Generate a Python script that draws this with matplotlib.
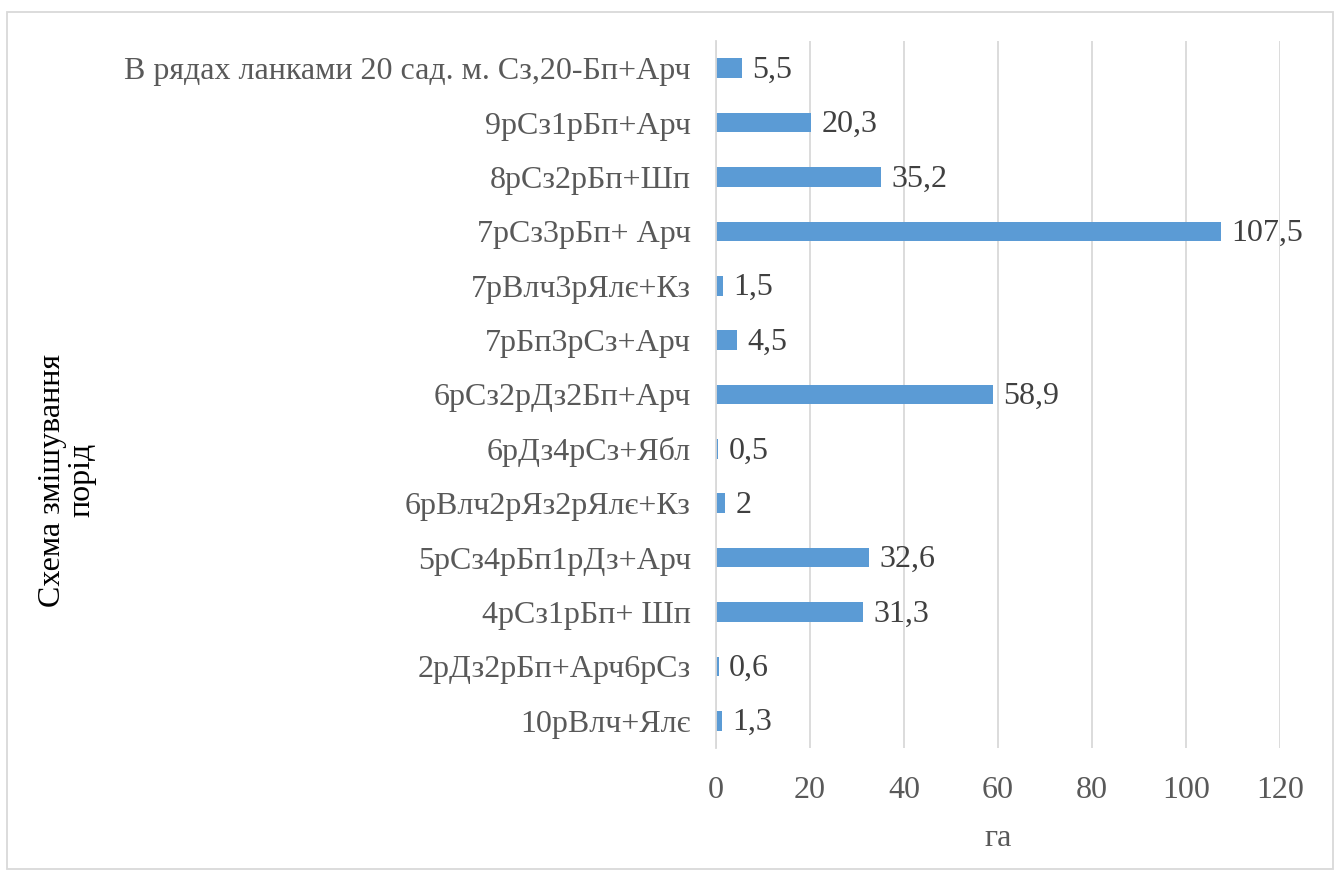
import matplotlib
matplotlib.use("Agg")
import matplotlib.pyplot as plt
from matplotlib.patches import Rectangle

categories = [
    "10рВлч+Ялє",
    "2рДз2рБп+Арч6рСз",
    "4рСз1рБп+ Шп",
    "5рСз4рБп1рДз+Арч",
    "6рВлч2рЯз2рЯлє+Кз",
    "6рДз4рСз+Ябл",
    "6рСз2рДз2Бп+Арч",
    "7рБп3рСз+Арч",
    "7рВлч3рЯлє+Кз",
    "7рСз3рБп+ Арч",
    "8рСз2рБп+Шп",
    "9рСз1рБп+Арч",
    "В рядах ланками 20 сад. м. Сз,20-Бп+Арч",
]
values = [1.3, 0.6, 31.3, 32.6, 2, 0.5, 58.9, 4.5, 1.5, 107.5, 35.2, 20.3, 5.5]
x_ticks = [0, 20, 40, 60, 80, 100, 120]
x_label = "га"
y_label = "Схема змішування\nпорід"

plt.rcParams['font.family'] = ['Liberation Serif', 'DejaVu Serif']

W, H = 1341, 872
fig = plt.figure(figsize=(W / 100, H / 100), dpi=100)
fig.patch.set_facecolor("white")

ax = fig.add_axes([716 / W, 1 - 748 / H, (1280 - 716) / W, (748 - 41) / H])

FS = 23
y = list(range(len(categories)))
ax.barh(y, values, height=0.36, color="#5B9BD5", zorder=3)
ax.set_ylim(-0.5, len(categories) - 0.5)
ax.set_xlim(0, 120)
ax.set_xticks(x_ticks)
ax.set_xticklabels([str(t) for t in x_ticks])
ax.set_yticks(y)
ax.set_yticklabels(categories)

ax.grid(axis="x", color="#d9d9d9", linewidth=1.3, zorder=0)
ax.set_axisbelow(True)
for s in ["top", "right", "bottom"]:
    ax.spines[s].set_visible(False)
ax.spines["left"].set_color("#d9d9d9")
ax.spines["left"].set_linewidth(1.3)
ax.spines["left"].set_zorder(4)

ax.tick_params(axis="y", length=0, pad=18, labelsize=FS, labelcolor="#595959")
ax.tick_params(axis="x", length=0, pad=20, labelsize=FS, labelcolor="#595959")

for yi, v in zip(y, values):
    txt = f"{v:g}".replace(".", ",")
    ax.annotate(txt, (v, yi), xytext=(10, -2), textcoords="offset pixels",
                ha="left", va="center", fontsize=FS, color="#404040")

ax.set_xlabel(x_label, fontsize=FS, color="#595959", labelpad=14)

fig.text(67 / W, 1 - 480 / H, y_label, rotation=90, ha="center", va="center",
         fontsize=FS, color="black", multialignment="center", linespacing=1.0)

fig.patches.append(Rectangle((7 / W, 1 - 869 / H), (1333 - 7) / W, (869 - 12) / H,
                             transform=fig.transFigure, fill=False,
                             edgecolor="#d9d9d9", linewidth=1.3))

fig.savefig("out.png", dpi=100)
